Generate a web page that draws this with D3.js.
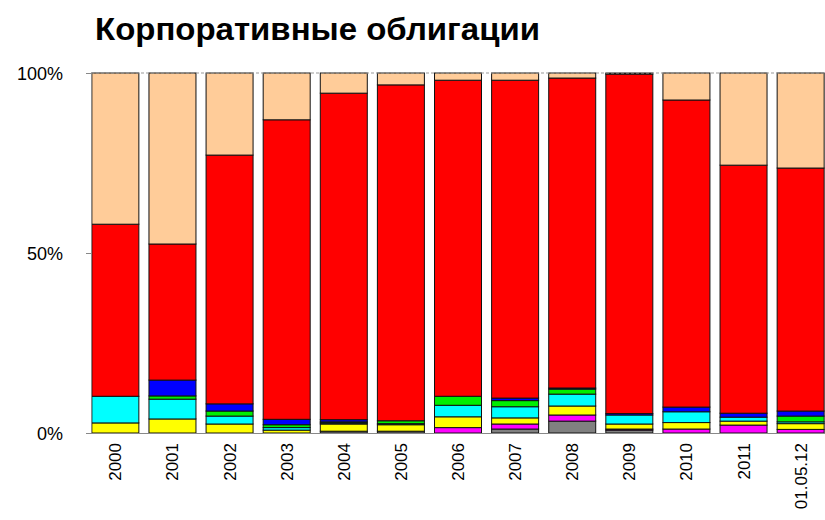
<!DOCTYPE html>
<html lang="ru">
<head>
<meta charset="UTF-8">
<script src="https://cdn.jsdelivr.net/npm/d3@7"></script>
<style>
  body { margin: 0; background: #fff; }
  text { font-family: "Liberation Sans", Arial, sans-serif; }
</style>
</head>
<body>
<svg width="825" height="520" id="chart"></svg>
<script>
// categories (bottom axis)
const cats = ["2000","2001","2002","2003","2004","2005","2006","2007","2008","2009","2010","2011","01.05.12"];

// shares, %, bottom to top
const gray    = [0,   0,   0,   0,   0.5, 0.5, 0,   1.1, 3.3, 0.8, 0,   0,   0];
const magenta = [0,   0,   0,   0,   0,   0,   1.5, 1.4, 1.7, 0.3, 1.1, 2.2, 1.0];
const yellow  = [2.8, 3.9, 2.5, 0.8, 2.0, 1.8, 3.0, 1.7, 2.5, 1.4, 1.8, 1.1, 1.6];
const cyan    = [7.4, 5.5, 2.2, 0.7, 0.3, 0.3, 3.2, 3.1, 3.3, 2.5, 3.0, 1.1, 0.5];
const green   = [0,   0.9, 1.4, 0.8, 0.3, 0.8, 2.5, 1.7, 1.4, 0,   0,   0,   1.6];
const blue    = [0,   4.4, 2.0, 1.5, 0.6, 0,   0,   0.7, 0.3, 0.4, 1.3, 1.1, 1.4];
const red     = [47.8,37.8,69.1,83.2,90.7,93.3,87.8,88.3,86.1,94.3,85.3,68.9,67.5];
const peach   = [42,  47.5,22.8,13,  5.6, 3.3, 2.0, 2.0, 1.4, 0.3, 7.5, 25.6,26.4];

const yTicks = [0, 50, 100];

const keys = ["gray","magenta","yellow","cyan","green","blue","red","peach"];
const seriesVals = {gray, magenta, yellow, cyan, green, blue, red, peach};
const colors = {
  gray: "#808080", magenta: "#ff00ff", yellow: "#ffff00", cyan: "#00ffff",
  green: "#00ee00", blue: "#0000ff", red: "#ff0000", peach: "#ffcc99"
};

const rows = cats.map((c, i) => {
  const r = {cat: c};
  keys.forEach(k => r[k] = seriesVals[k][i]);
  return r;
});

const svg = d3.select("#chart");

const x = d3.scaleBand()
  .domain(cats)
  .range([89, 827])
  .paddingInner(0.177)
  .paddingOuter(0.05);

const y = d3.scaleLinear().domain([0, 100]).range([433, 73]);

// title
svg.append("text")
  .attr("x", 95)
  .attr("y", 40)
  .attr("textLength", 445)
  .attr("lengthAdjust", "spacingAndGlyphs")
  .style("font-size", "31px")
  .style("font-weight", "bold")
  .text("Корпоративные облигации");

// bars
const stacked = d3.stack().keys(keys)(rows);

svg.append("g")
  .selectAll("g")
  .data(stacked)
  .join("g")
  .attr("fill", d => colors[d.key])
  .selectAll("rect")
  .data(d => d.filter(s => s[1] - s[0] > 0))
  .join("rect")
  .attr("x", d => x(d.data.cat))
  .attr("y", d => y(d[1]))
  .attr("width", x.bandwidth())
  .attr("height", d => y(d[0]) - y(d[1]))
  .attr("stroke", "#111")
  .attr("stroke-width", 1);

// top dashed line at 100%
svg.append("line")
  .attr("x1", 91).attr("x2", 826)
  .attr("y1", y(100)).attr("y2", y(100))
  .attr("stroke", "#999")
  .attr("stroke-dasharray", "3,2");

// bottom baseline
svg.append("line")
  .attr("x1", 86).attr("x2", 826)
  .attr("y1", y(0) + 0.5).attr("y2", y(0) + 0.5)
  .attr("stroke", "#888");

// y axis
const yAxis = svg.append("g")
  .attr("transform", "translate(91,0)")
  .call(d3.axisLeft(y).tickValues(yTicks).tickSize(5).tickFormat(d => d + "%"));
yAxis.select(".domain").attr("stroke", "#888");
yAxis.selectAll(".tick line").attr("stroke", "#888");
yAxis.selectAll(".tick text")
  .attr("x", -28)
  .attr("dy", "0.35em")
  .style("font-size", "18px")
  .style("font-family", "'Liberation Sans', Arial, sans-serif")
  .attr("fill", "#000");

// x labels, rotated
svg.append("g")
  .selectAll("text")
  .data(cats)
  .join("text")
  .attr("transform", d => `translate(${x(d) + x.bandwidth() / 2 + 6},443) rotate(-90)`)
  .attr("text-anchor", "end")
  .style("font-size", "17px")
  .text(d => d);
</script>
</body>
</html>
